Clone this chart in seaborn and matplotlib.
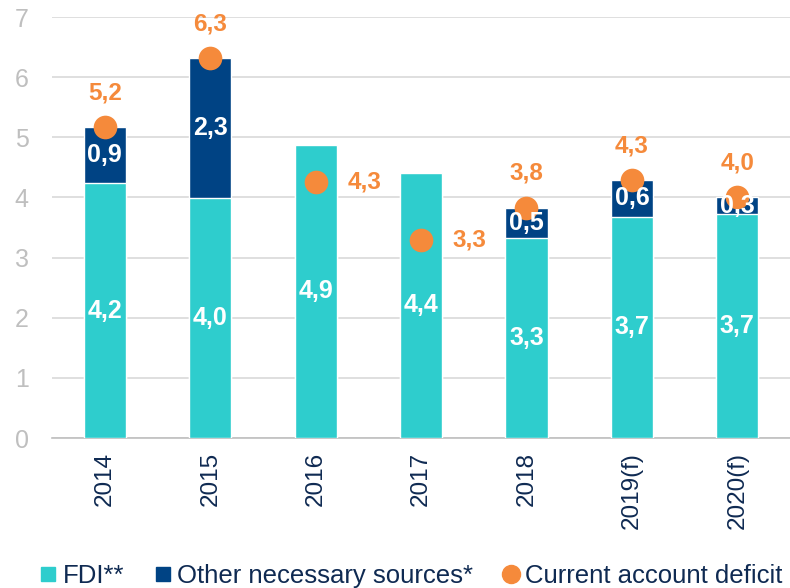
import numpy as np
import matplotlib
matplotlib.use("Agg")
import matplotlib.pyplot as plt
import seaborn as sns
from matplotlib.lines import Line2D

# -----------------------------
# DATA
# -----------------------------
years = ["2014", "2015", "2016", "2017", "2018", "2019(f)", "2020(f)"]
fdi = [4.24, 3.99, 4.88, 4.41, 3.33, 3.68, 3.73]
other = [0.93, 2.33, 0.0, 0.0, 0.50, 0.61, 0.27]
deficit = [5.17, 6.32, 4.25, 3.30, 3.83, 4.29, 4.00]
fdi_lbl = ["4,2", "4,0", "4,9", "4,4", "3,3", "3,7", "3,7"]
other_lbl = ["0,9", "2,3", "", "", "0,5", "0,6", "0,3"]
deficit_lbl = ["5,2", "6,3", "4,3", "3,3", "3,8", "4,3", "4,0"]

TEAL = "#2ECDCD"
NAVY = "#004384"
ORANGE = "#F58A3B"
TXT = "#0F2A52"
GRAY = "#BFBFBF"

sns.set_style("white")
plt.rcParams["font.family"] = ["Liberation Sans", "DejaVu Sans"]

fig = plt.figure(figsize=(7.9, 5.88), dpi=100)
ax = fig.add_axes([0.066, 0.255, 0.934, 0.716])

total = [f + o for f, o in zip(fdi, other)]

# stacked bars: total first, FDI on top of it
sns.barplot(x=years, y=total, color=NAVY, width=0.4, saturation=1, ax=ax, zorder=2)
sns.barplot(x=years, y=fdi, color=TEAL, width=0.4, saturation=1, ax=ax, zorder=3)

# current account deficit dots
sns.pointplot(x=years, y=deficit, color=ORANGE, linestyle="none", markersize=15,
              errorbar=None, ax=ax, zorder=5)

# labels
for i in range(len(years)):
    ax.text(i, fdi[i] / 2, fdi_lbl[i], color="white", fontsize=18, fontweight="bold",
            ha="center", va="center", zorder=6)
    if other_lbl[i]:
        ax.text(i, fdi[i] + other[i] / 2, other_lbl[i], color="white", fontsize=18,
                fontweight="bold", ha="center", va="center", zorder=6)
    if years[i] in ("2016", "2017"):
        ax.text(i + 0.3, deficit[i], deficit_lbl[i], color=ORANGE, fontsize=17.5,
                fontweight="bold", ha="left", va="center", zorder=6)
    else:
        ax.text(i, deficit[i] + 0.57, deficit_lbl[i], color=ORANGE, fontsize=17.5,
                fontweight="bold", ha="center", va="center", zorder=6)

# axes styling
ax.set_ylim(0, 7)
ax.set_xlim(-0.5, len(years) - 0.5)
ax.set_yticks(range(0, 8))
ax.yaxis.grid(True, color="#D9D9D9", linewidth=1.2, zorder=0)
ax.set_axisbelow(True)
for s in ["left", "right", "top"]:
    ax.spines[s].set_visible(False)
ax.spines["bottom"].set_color(GRAY)
ax.spines["bottom"].set_linewidth(1.2)

ax.tick_params(axis="y", length=0, pad=17, labelsize=18, labelcolor=GRAY)
ax.set_xticks(range(len(years)))
ax.set_xticklabels(years, rotation=90, fontsize=17.5, color=TXT)
ax.tick_params(axis="x", which="major", length=0, pad=10)
ax.set_xticks(np.arange(-0.5, len(years), 1), minor=True)
ax.tick_params(axis="x", which="minor", length=7, color=GRAY, width=1.2)
ax.set_xlabel("")
ax.set_ylabel("")

# legend
handles = [
    Line2D([], [], marker="s", linestyle="none", color=TEAL, markersize=10),
    Line2D([], [], marker="s", linestyle="none", color=NAVY, markersize=10),
    Line2D([], [], marker="o", linestyle="none", color=ORANGE, markersize=13),
]
names = ["FDI**", "Other necessary sources*", "Current account deficit"]
leg = fig.legend(handles, names, loc="center", bbox_to_anchor=(0.518, 0.02), ncol=3,
                 frameon=False, fontsize=18.5, handletextpad=0.05, columnspacing=1.0,
                 handlelength=1.0)
for t in leg.get_texts():
    t.set_color(TXT)

fig.savefig("out.png", dpi=100)
